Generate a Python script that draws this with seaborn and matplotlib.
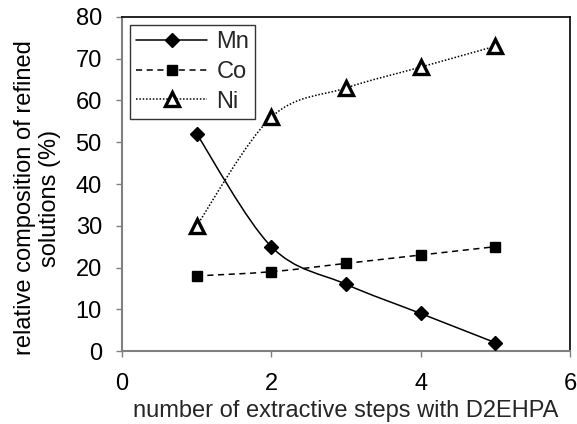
import numpy as np
import pandas as pd
import matplotlib
matplotlib.use("Agg")
import matplotlib.pyplot as plt
from matplotlib.path import Path
from matplotlib.patches import PathPatch
from matplotlib.lines import Line2D
import seaborn as sns

steps = [1, 2, 3, 4, 5]
mn = [52, 25, 16, 9, 2]
co = [18, 19, 21, 23, 25]
ni = [30, 56, 63, 68, 73]
series_names = ["Mn", "Co", "Ni"]
x_ticks = [0, 2, 4, 6]
y_ticks = [0, 10, 20, 30, 40, 50, 60, 70, 80]

sns.set_theme(style="white")
plt.rcParams["font.family"] = ["Liberation Sans", "DejaVu Sans"]

FS = 17

fig = plt.figure(figsize=(5.77, 4.24), dpi=100)
ax = fig.add_axes([0.2114, 0.172, 0.7766, 0.788])

df = pd.DataFrame({"x": steps * 3, "y": mn + co + ni,
                   "s": sum([[n] * len(steps) for n in series_names], [])})

styles = {
    "Mn": dict(ls="-", marker="D", ms=7.5, mfc="black", mew=1.0),
    "Co": dict(ls=(0, (4, 3)), marker="s", ms=7.5, mfc="black", mew=1.0),
    "Ni": dict(ls=(0, (1, 1.2)), marker="^", ms=9.5, mfc="white", mew=2.4),
}


def smooth_path(xs, ys):
    pts = np.column_stack([xs, ys]).astype(float)
    n = len(pts)
    verts = [pts[0]]
    codes = [Path.MOVETO]
    for i in range(n - 1):
        p0 = pts[i - 1] if i > 0 else pts[i]
        p1 = pts[i]
        p2 = pts[i + 1]
        p3 = pts[i + 2] if i + 2 < n else pts[i + 1]
        c1 = p1 + (p2 - p0) / 6.0
        c2 = p2 - (p3 - p1) / 6.0
        verts += [c1, c2, p2]
        codes += [Path.CURVE4] * 3
    return Path(verts, codes)


for name in series_names:
    sub = df[df["s"] == name]
    st = styles[name]
    patch = PathPatch(smooth_path(sub["x"].values, sub["y"].values),
                      facecolor="none", edgecolor="black", lw=1.1,
                      linestyle=st["ls"], zorder=2)
    ax.add_patch(patch)
    sns.lineplot(data=sub, x="x", y="y", ax=ax, linestyle="none",
                 marker=st["marker"], markersize=st["ms"],
                 markerfacecolor=st["mfc"], markeredgecolor="black",
                 markeredgewidth=st["mew"], color="black", zorder=3,
                 legend=False)

ax.set_xlim(0, 6)
ax.set_ylim(0, 80)
ax.set_xticks(x_ticks)
ax.set_yticks(y_ticks)
ax.tick_params(axis="both", labelsize=FS, colors="#808080", labelcolor="black",
               direction="out", length=4.5, width=1, left=True, bottom=True)
ax.tick_params(axis="x", pad=11)
ax.tick_params(axis="y", pad=10)
ax.set_xlabel("number of extractive steps with D2EHPA", fontsize=FS, labelpad=4)
ax.set_ylabel("")
ax.text(-0.189, 0.458, "relative composition of refined\nsolutions (%)",
        transform=ax.transAxes, rotation=90, ha="center", va="center",
        multialignment="center", fontsize=FS, linespacing=1.15, color="black")
for side in ["left", "bottom"]:
    ax.spines[side].set_color("#808080")
    ax.spines[side].set_linewidth(1.5)
for side in ["top", "right"]:
    ax.spines[side].set_color("black")
    ax.spines[side].set_linewidth(1.2)
    ax.spines[side].set_visible(True)

handles = []
for name in series_names:
    st = styles[name]
    handles.append(Line2D([0], [0], color="black", lw=1.1, linestyle=st["ls"],
                          marker=st["marker"], markersize=st["ms"],
                          markerfacecolor=st["mfc"], markeredgecolor="black",
                          markeredgewidth=st["mew"]))
leg = ax.legend(handles, series_names, loc="upper left", fontsize=FS,
                frameon=True, fancybox=False, edgecolor="black",
                handlelength=3.0, borderpad=0.25, labelspacing=0.33,
                handletextpad=0.4, borderaxespad=0.35)
leg.get_frame().set_linewidth(1.0)

fig.savefig("out.png", dpi=100)
